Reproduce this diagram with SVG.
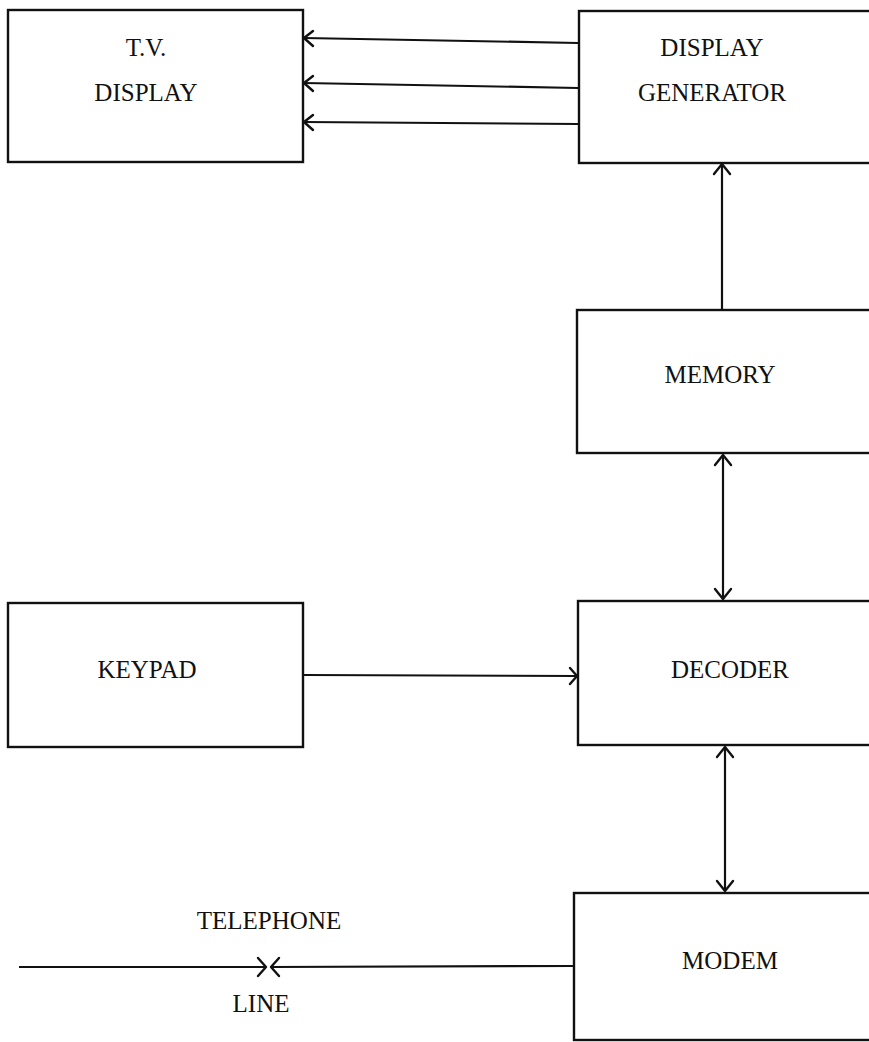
<svg xmlns="http://www.w3.org/2000/svg" width="869" height="1042" viewBox="0 0 869 1042">
<defs>
<style>
.box{fill:none;stroke:#111;stroke-width:2.4}
.ln{fill:none;stroke:#111;stroke-width:2.2}
.ah{fill:none;stroke:#111;stroke-width:2.4;stroke-linecap:round;stroke-linejoin:round}
text{font-family:"Liberation Serif","DejaVu Serif",serif;font-size:25px;fill:#111;text-anchor:middle}
</style>
</defs>
<rect width="869" height="1042" fill="#fff"/>
<g id="tv-display">
<rect class="box" x="8" y="10" width="295" height="152"/>
<text x="146" y="56">T.V.</text>
<text x="146" y="101">DISPLAY</text>
</g>
<g id="display-generator">
<rect class="box" x="579" y="11" width="295" height="152"/>
<text x="712" y="56">DISPLAY</text>
<text x="712" y="101">GENERATOR</text>
</g>
<g id="memory">
<rect class="box" x="577" y="310" width="297" height="143"/>
<text x="720" y="383">MEMORY</text>
</g>
<g id="keypad">
<rect class="box" x="8" y="603" width="295" height="144"/>
<text x="147" y="678">KEYPAD</text>
</g>
<g id="decoder">
<rect class="box" x="578" y="601" width="296" height="144"/>
<text x="730" y="678">DECODER</text>
</g>
<g id="modem">
<rect class="box" x="574" y="893" width="300" height="147"/>
<text x="730" y="969">MODEM</text>
</g>
<g id="telephone-line">
<text x="269" y="929">TELEPHONE</text>
<text x="261" y="1012">LINE</text>
</g>
<g id="connectors">
<line class="ln" x1="578" y1="43" x2="304" y2="38"/>
<path class="ah" d="M313,31 L304,38 L313,46"/>
<line class="ln" x1="578" y1="88" x2="304" y2="83"/>
<path class="ah" d="M313,76 L304,83 L313,91"/>
<line class="ln" x1="578" y1="124" x2="304" y2="122"/>
<path class="ah" d="M313,115 L304,122 L313,130"/>
<line class="ln" x1="722" y1="310" x2="722" y2="164"/>
<path class="ah" d="M714,174 L722,164 L730,174"/>
<line class="ln" x1="723" y1="455" x2="723" y2="599"/>
<path class="ah" d="M715,465 L723,455 L731,465"/>
<path class="ah" d="M715,589 L723,599 L731,589"/>
<line class="ln" x1="725" y1="747" x2="725" y2="891"/>
<path class="ah" d="M717,757 L725,747 L733,757"/>
<path class="ah" d="M717,881 L725,891 L733,881"/>
<line class="ln" x1="304" y1="675" x2="576" y2="676"/>
<path class="ah" d="M570,668 L577,676 L570,684"/>
<line class="ln" x1="19" y1="967" x2="265" y2="967"/>
<path class="ah" d="M258,958 L266,967 L258,976"/>
<line class="ln" x1="272" y1="967" x2="573" y2="966"/>
<path class="ah" d="M279,958 L271,967 L279,976"/>
</g>
</svg>
